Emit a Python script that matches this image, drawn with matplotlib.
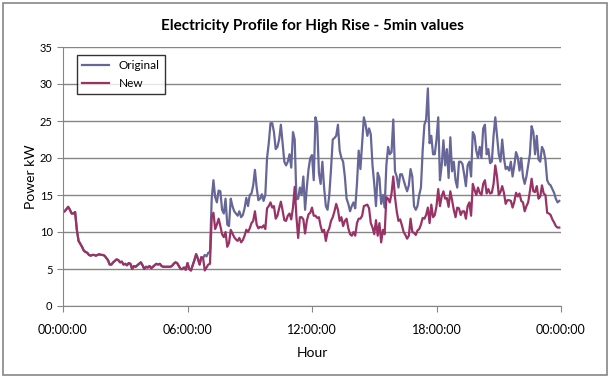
import numpy as np
import matplotlib
matplotlib.use("Agg")
import matplotlib.pyplot as plt
from matplotlib.patches import Rectangle

# 5-minute samples, values (kW)
# night part, identical for both profiles (00:00 - 06:45)
night = [12.7, 12.8, 13.1, 13.4, 13.0, 12.5, 12.5, 12.7, 10.3, 8.8, 8.4, 8.0,
         7.5, 7.3, 7.2, 6.9, 6.8, 6.9, 6.9, 6.8, 6.9, 7.0, 6.9, 6.9,
         6.8, 6.5, 6.2, 5.6, 5.6, 5.9, 6.1, 6.3, 6.2, 5.9, 6.0, 5.6,
         5.7, 5.5, 5.8, 5.7, 5.0, 5.4, 5.3, 5.5, 5.7, 5.9, 5.5, 5.0,
         5.3, 5.2, 5.4, 5.1, 5.3, 5.5, 5.7, 5.6, 5.7, 5.4, 5.3, 5.3,
         5.3, 5.3, 5.3, 5.4, 5.7, 5.9, 5.8, 5.4, 5.0, 5.0, 5.2, 4.9,
         5.8, 5.0, 4.8, 5.5, 6.2, 7.0, 6.4, 5.6, 6.6, 6.5]

# day part 06:50 - 23:55
orig_day = [6.9, 6.7, 7.2, 7.3, 14.5, 17.0,
            14.7, 14.0, 15.6, 15.5, 13.0, 12.5, 14.5, 11.0, 10.8, 14.5, 13.5,
            12.8, 12.5, 12.2, 12.8, 12.0, 12.3, 13.2,
            14.6, 13.5, 15.0, 15.2, 16.3, 18.4, 16.0, 14.3, 14.5, 15.1,
            14.2, 15.0, 20.0, 22.0, 24.7, 24.7, 23.5, 21.2, 21.5, 22.5,
            24.5, 22.0, 19.5, 19.0, 19.5, 20.5, 18.7, 23.5, 22.5, 14.4,
            14.5, 16.0, 15.0, 17.5, 13.0, 16.0, 18.5, 20.0, 20.4, 17.0,
            25.5, 24.5, 18.0, 16.5, 19.5, 16.0, 13.5, 13.0, 15.0, 18.5,
            22.5, 22.7, 23.0, 24.5, 21.0, 20.0, 19.5, 17.5, 14.5, 13.8, 12.8,
            13.5, 14.0, 13.2,
            16.5, 21.0, 18.5, 22.0, 25.5, 24.5, 23.0, 24.0, 23.2, 19.0,
            16.5, 13.5, 18.0, 17.3, 13.8, 15.0, 13.3, 19.0, 21.5, 20.5,
            20.8, 25.2, 18.2, 17.5,
            16.0, 17.8, 17.8, 17.0, 16.2, 15.5, 16.3, 18.5, 17.5, 13.5,
            13.0, 13.5, 15.0, 16.0, 21.0, 24.5, 25.2, 29.4, 22.0, 23.0, 20.5,
            20.5, 22.5, 25.5, 17.0, 19.0, 22.4, 19.0, 21.2, 17.3, 22.8,
            18.2, 19.5, 17.0, 16.0, 19.5, 19.5, 19.2, 17.8, 16.2, 19.0,
            19.5, 17.5, 23.5, 23.0, 21.0, 20.0, 21.5, 20.0, 24.0, 24.5,
            20.5, 21.2, 19.3,
            19.5, 23.0, 25.5, 23.0, 20.5, 19.5, 22.5, 20.0, 18.5,
            18.8, 18.3, 19.5, 17.5, 19.0, 20.8, 20.1, 18.3, 20.0, 17.5,
            16.5, 17.5, 19.0, 20.5, 24.3, 23.5, 20.5, 23.0, 19.8, 19.5,
            21.5, 21.0, 19.7, 17.0, 16.5, 16.3, 15.8, 15.3, 14.5, 14.0, 14.2]

new_day = [4.8, 5.2, 5.6, 5.7, 12.0, 12.6,
           10.4, 11.0, 11.8, 10.8, 9.7, 9.3, 10.0, 8.0, 8.5, 10.3, 9.8,
           9.3, 9.0, 8.8, 9.2, 8.6, 8.9, 9.5,
           10.3, 10.0, 10.5, 11.2, 11.5, 12.8, 11.0, 10.5, 10.7, 10.6,
           10.9, 10.4, 13.2, 13.5, 14.0, 13.3, 13.5, 11.8, 12.2, 13.2,
           14.1, 12.9, 11.6, 11.5, 12.2, 12.5, 11.7, 13.3, 16.1, 12.0,
           9.2, 12.0, 12.0, 11.7, 9.8, 11.5, 12.4, 12.6, 13.3, 12.2,
           12.2, 11.9, 12.0, 10.8, 10.0, 10.3, 8.8, 10.0, 10.5, 11.5,
           12.0, 12.8, 13.8, 13.0, 11.5, 12.0, 10.8, 11.5, 11.8, 10.5, 9.7,
           9.5, 10.0, 9.5,
           11.2, 11.8, 11.8, 12.2, 13.5, 13.6, 13.7, 13.2, 11.2, 10.6,
           9.7, 11.6, 9.5, 11.2, 8.6, 10.3, 9.7, 14.7, 14.5, 14.0,
           15.2, 17.5, 14.7, 12.8,
           11.5, 11.7, 10.9, 10.0, 9.6, 9.1, 9.5, 11.8, 10.0, 9.9,
           9.6, 10.2, 10.4, 11.0, 11.9, 11.8, 12.3, 13.3, 11.2, 13.7, 12.0,
           12.3, 13.5, 15.8, 13.5, 14.8, 15.5, 14.5, 14.6, 13.4, 15.5,
           14.3, 13.0, 12.0, 13.3, 13.2, 12.3, 12.8, 12.8, 11.8, 13.5,
           14.0, 12.2, 16.5, 15.7, 15.0, 16.0, 15.3, 15.0, 16.5, 17.0,
           15.2, 15.8, 15.2,
           15.3, 16.5, 19.0, 17.5, 15.0, 15.4, 16.2, 15.3, 13.8,
           14.3, 14.3, 14.2, 13.3, 14.1, 15.3, 14.8, 15.2, 14.2, 14.0,
           12.8, 13.5, 14.0, 15.5, 17.2, 15.5, 15.4, 16.2, 14.5, 14.8,
           16.3, 15.2, 15.0, 12.6, 12.5, 12.3, 11.7, 11.3, 10.8, 10.6, 10.6]

original = np.array(night + orig_day)
new = np.array(night + new_day)
hours = np.arange(len(original)) * 5 / 60.0

tick_hours = [0, 6, 12, 18, 24]
tick_labels = ["00:00:00", "06:00:00", "12:00:00", "18:00:00", "00:00:00"]

plt.rcParams['font.family'] = ['Lato', 'DejaVu Sans']

fig = plt.figure(figsize=(6.13, 3.80), dpi=100)
# chart border like excel
fig.patches.append(Rectangle((3/613, 5/380), 604/613, 372/380, transform=fig.transFigure,
                             fill=False, edgecolor='#868686', lw=1.2))

ax = fig.add_axes([63/613, 1 - 306/380, 498/613, 259/380])
ax.plot(hours, original, color='#666699', lw=1.6, label='Original')
ax.plot(hours, new, color='#993366', lw=1.6, label='New')

ax.set_xlim(0, 24)
ax.set_ylim(0, 35)
ax.set_yticks(range(0, 36, 5))
ax.set_xticks(tick_hours)
ax.set_xticklabels(tick_labels)
ax.yaxis.grid(True, color='#868686', lw=1)
ax.set_axisbelow(True)
for s in ['top', 'right']:
    ax.spines[s].set_visible(False)
for s in ['left', 'bottom']:
    ax.spines[s].set_color('#868686')
ax.tick_params(colors='#868686', labelcolor='black', labelsize=8, length=4)
ax.tick_params(axis='x', labelsize=9, pad=9)

ax.set_title('Electricity Profile for High Rise - 5min values', fontsize=11, fontweight='bold', pad=12)
ax.set_xlabel('Hour', fontsize=10, labelpad=8)
ax.set_ylabel('Power kW', fontsize=10, labelpad=2)

leg = ax.legend(loc='upper left', bbox_to_anchor=(0.028, 0.969), borderaxespad=0, fontsize=8.5,
                frameon=True, fancybox=False, handlelength=2.3, borderpad=0.45, labelspacing=0.55)
leg.get_frame().set_edgecolor('black')
leg.get_frame().set_linewidth(1)

fig.savefig('out.png', dpi=100)
